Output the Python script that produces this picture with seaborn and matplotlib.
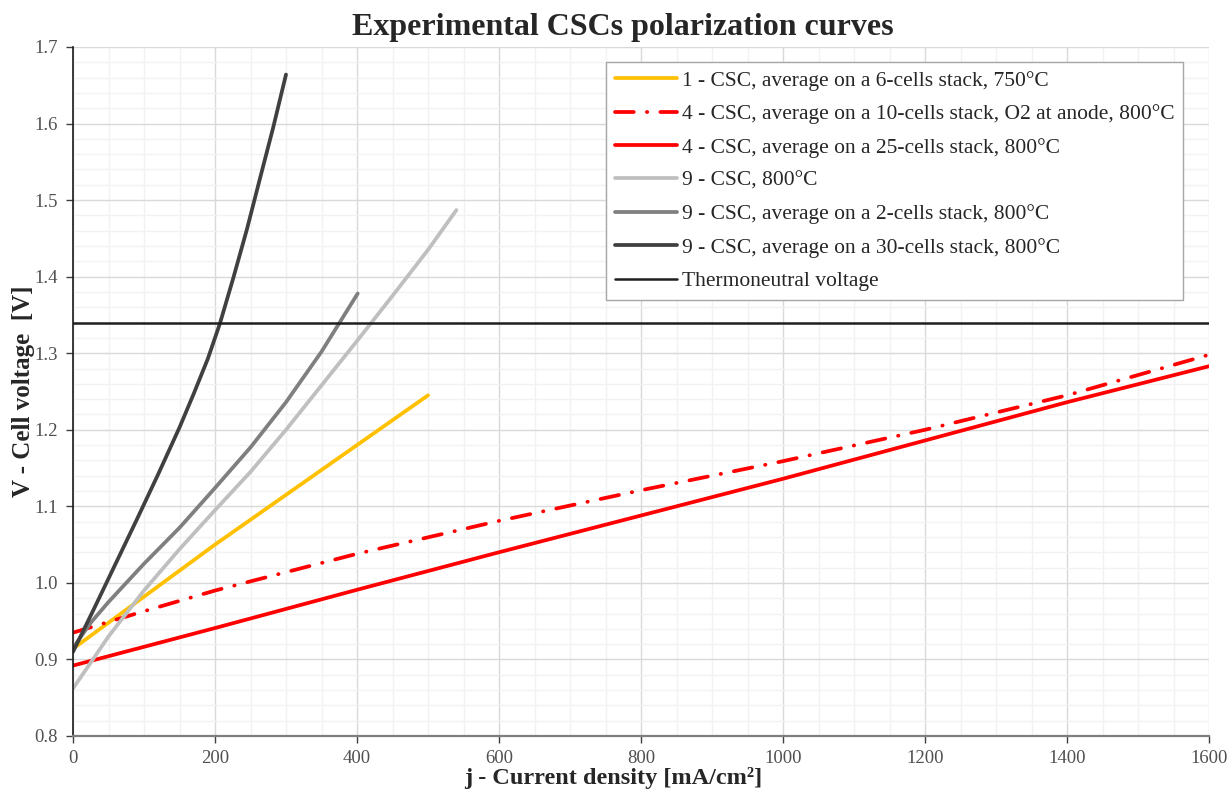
import matplotlib
matplotlib.use("Agg")
import matplotlib.pyplot as plt
from matplotlib.ticker import MultipleLocator, FormatStrFormatter
import seaborn as sns

# ---- data ----
yellow_j = [0, 100, 200, 300, 400, 500]
yellow_v = [0.914, 0.982, 1.050, 1.115, 1.180, 1.245]

o2_j = [0, 100, 200, 400, 600, 800, 1000, 1200, 1400, 1600]
o2_v = [0.935, 0.963, 0.990, 1.038, 1.081, 1.121, 1.159, 1.200, 1.245, 1.298]

red_j = [0, 200, 400, 600, 800, 1000, 1200, 1400, 1600]
red_v = [0.892, 0.941, 0.991, 1.040, 1.088, 1.136, 1.186, 1.236, 1.283]

lgray_j = [0, 50, 100, 150, 200, 250, 300, 350, 400, 450, 500, 540]
lgray_v = [0.862, 0.930, 0.990, 1.044, 1.095, 1.145, 1.200, 1.258, 1.316, 1.375, 1.435, 1.487]

mgray_j = [0, 25, 50, 100, 150, 200, 250, 300, 350, 401]
mgray_v = [0.915, 0.948, 0.975, 1.025, 1.072, 1.124, 1.177, 1.236, 1.302, 1.378]

dgray_j = [0, 30, 60, 90, 120, 150, 170, 190, 207, 226, 245, 263, 282, 300]
dgray_v = [0.910, 0.967, 1.025, 1.083, 1.142, 1.203, 1.247, 1.293, 1.339, 1.399, 1.462, 1.527, 1.595, 1.664]

thermo_j = [0, 1600]
thermo_v = [1.34, 1.34]

labels = [
    "1 - CSC, average on a 6-cells stack, 750°C",
    "4 - CSC, average on a 10-cells stack, O2 at anode, 800°C",
    "4 - CSC, average on a 25-cells stack, 800°C",
    "9 - CSC, 800°C",
    "9 - CSC, average on a 2-cells stack, 800°C",
    "9 - CSC, average on a 30-cells stack, 800°C",
    "Thermoneutral voltage",
]

sns.set_style("white")
plt.rcParams["font.family"] = ["Liberation Serif", "DejaVu Serif"]

fig = plt.figure(figsize=(12.32, 7.91), dpi=100)
ax = fig.add_axes([73 / 1232, 1 - 736 / 791, (1209 - 73) / 1232, (736 - 47) / 791])

series = [
    (yellow_j, yellow_v, "#FFC000", "-"),
    (o2_j, o2_v, "#FF0000", (0, (5, 3.5, 0.1, 3.5))),
    (red_j, red_v, "#FF0000", "-"),
    (lgray_j, lgray_v, "#BFBFBF", "-"),
    (mgray_j, mgray_v, "#7F7F7F", "-"),
    (dgray_j, dgray_v, "#404040", "-"),
]
for (xs, ys, col, ls), lab in zip(series, labels[:6]):
    sns.lineplot(x=xs, y=ys, ax=ax, color=col, linewidth=2.7, label=lab,
                 linestyle=ls, sort=False)
for ln in ax.lines:
    ln.set_dash_capstyle("round")
    ln.set_solid_capstyle("round")
    ln.set_solid_joinstyle("round")

sns.lineplot(x=thermo_j, y=thermo_v, ax=ax, color="#1f1f1f", linewidth=1.8,
             label=labels[6])

ax.set_xlim(0, 1600)
ax.set_ylim(0.8, 1.7)
ax.xaxis.set_major_locator(MultipleLocator(200))
ax.xaxis.set_minor_locator(MultipleLocator(50))
ax.yaxis.set_major_locator(MultipleLocator(0.1))
ax.yaxis.set_minor_locator(MultipleLocator(0.02))
ax.yaxis.set_major_formatter(FormatStrFormatter("%.1f"))

ax.grid(which="major", color="#d9d9d9", linewidth=1.0)
ax.grid(which="minor", color="#f2f2f2", linewidth=1.0)
ax.set_axisbelow(True)

for s in ["top", "right"]:
    ax.spines[s].set_visible(False)
ax.spines["left"].set_color("#1a1a1a")
ax.spines["left"].set_linewidth(1.2)
ax.spines["bottom"].set_color("#7f7f7f")
ax.spines["bottom"].set_linewidth(1.6)

ax.tick_params(which="major", direction="out", length=5, width=1,
               color="#404040", labelsize=13.5, labelcolor="#505050",
               left=True, bottom=True)
ax.tick_params(axis="x", which="major", pad=5)
ax.tick_params(axis="y", which="major", pad=6)
ax.tick_params(which="minor", length=0)

ax.set_xlabel("j - Current density [mA/cm²]", fontsize=17.5, fontweight="bold")
ax.set_ylabel("V - Cell voltage  [V]", fontsize=18, fontweight="bold")
ax.xaxis.set_label_coords((613 - 73) / 1136, -(767 - 736) / 689)
ax.yaxis.set_label_coords(-(73 - 35) / 1136, 0.5)

fig.text(623 / 1232, 1 - 28 / 791, "Experimental CSCs polarization curves",
         ha="center", va="center", fontsize=23, fontweight="bold")

leg = ax.legend(loc="upper right", bbox_to_anchor=((1183 - 73) / 1136, 1 - (62 - 47) / 689),
                borderaxespad=0, fontsize=15.5, frameon=True, fancybox=False,
                edgecolor="#a6a6a6", framealpha=1, handlelength=2.9,
                handletextpad=0.2, labelspacing=0.62, borderpad=0.4)
leg.get_frame().set_linewidth(1.0)

fig.savefig("out.png", dpi=100)
